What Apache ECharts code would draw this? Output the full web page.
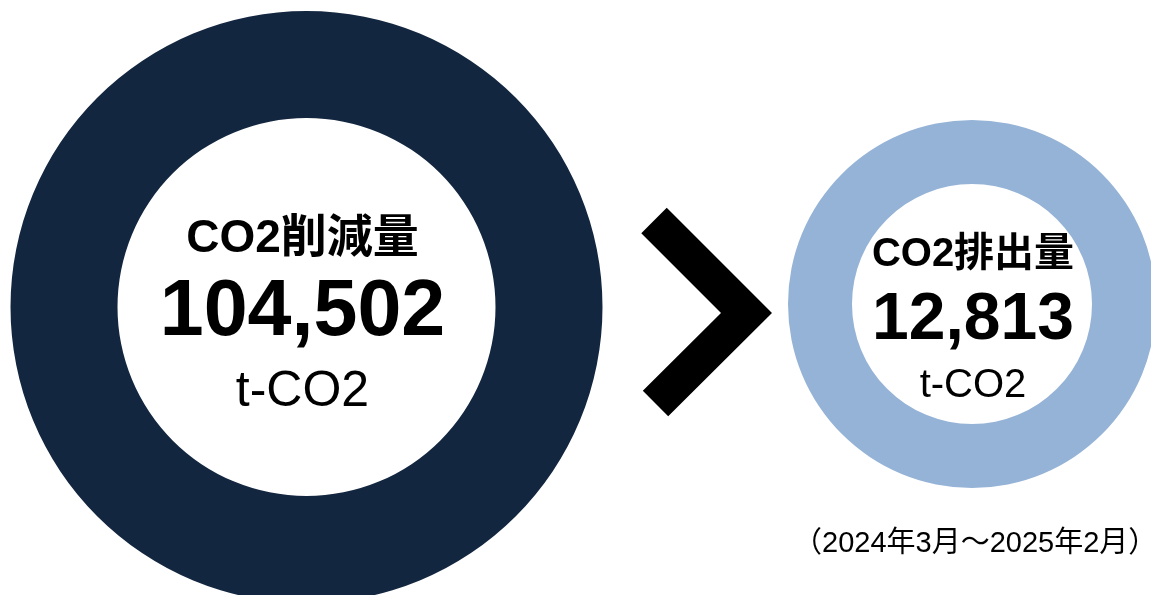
<!DOCTYPE html>
<html>
<head>
<meta charset="utf-8">
<script src="https://cdn.jsdelivr.net/npm/echarts@6/dist/echarts.min.js"></script>
<style>
html,body{margin:0;padding:0;background:#fff;}
#main{width:1151px;height:595px;}
</style>
</head>
<body>
<div id="main"></div>
<script>
// Data
const names = ['CO2削減量', 'CO2排出量'];
const values = [104502, 12813];
const unit = 't-CO2';
const colors = ['#13263f', '#95b3d7'];
const periodNote = '（2024年3月～2025年2月）';

const FONT = '"Liberation Sans", Arial, "Noto Sans CJK JP", sans-serif';
const fmt = v => v.toLocaleString('en-US');

const chart = echarts.init(document.getElementById('main'), null, {renderer: 'canvas'});

function donut(idx, center, radius, sizes, lh, offset) {
  return {
    type: 'pie',
    center: center,
    radius: radius,
    silent: true,
    animation: false,
    labelLine: {show: false},
    itemStyle: {color: colors[idx]},
    label: {
      show: true,
      position: 'center',
      offset: offset,
      formatter: p => '{t|' + p.name + '}\n{v|' + fmt(p.value) + '}\n{u|' + unit + '}',
      rich: {
        t: {fontFamily: FONT, fontWeight: 'bold', fontSize: sizes[0], lineHeight: lh[0], color: '#000'},
        v: {fontFamily: FONT, fontWeight: 'bold', fontSize: sizes[1], lineHeight: lh[1], color: '#000'},
        u: {fontFamily: FONT, fontWeight: 'normal', fontSize: sizes[2], lineHeight: lh[2], color: '#000'}
      }
    },
    data: [{name: names[idx], value: values[idx]}]
  };
}

chart.setOption({
  animation: false,
  backgroundColor: '#fff',
  series: [
    donut(0, [306.5, 307], [189, 296], [46, 79, 50], [70, 78, 80], [-4, 11]),
    donut(1, [972, 304], [120, 184], [40, 66, 40], [67, 66, 63], [1, 15])
  ],
  graphic: [
    {
      type: 'polyline',
      shape: {points: [[654, 220.5], [746.5, 313], [655.5, 403.5]]},
      style: {stroke: '#000', lineWidth: 36, fill: null, lineJoin: 'miter', lineCap: 'butt'},
      silent: true
    },
    {
      type: 'text',
      left: 793,
      top: 529,
      style: {text: periodNote, font: '29px ' + FONT, fill: '#000'},
      silent: true
    }
  ]
});
</script>
</body>
</html>
